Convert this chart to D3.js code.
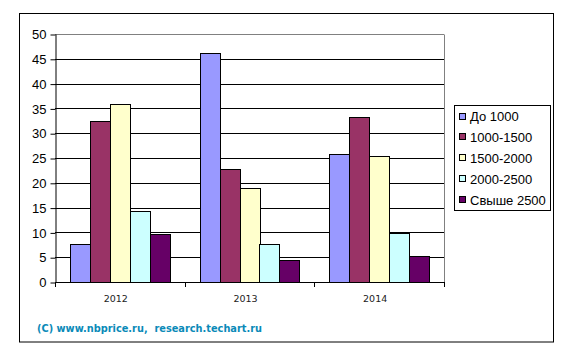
<!DOCTYPE html>
<html><head><meta charset="utf-8">
<script src="https://cdn.jsdelivr.net/npm/d3@7"></script>
<style>body{margin:0;background:#fff}svg{display:block}</style>
</head><body>
<script>
const categories = ["2012", "2013", "2014"];
const seriesNames = ["До 1000", "1000-1500", "1500-2000", "2000-2500", "Свыше 2500"];
const s1 = [7.6, 46.1, 25.9];
const s2 = [32.4, 22.7, 33.2];
const s3 = [35.8, 18.9, 25.5];
const s4 = [14.3, 7.6, 9.9];
const s5 = [9.6, 4.4, 5.2];
const yTicks = [0, 5, 10, 15, 20, 25, 30, 35, 40, 45, 50];
const colors = ["#9999FF", "#993366", "#FFFFCC", "#CCFFFF", "#660066"];
const seriesValues = [s1, s2, s3, s4, s5];

const W = 575, H = 357;
const svg = d3.select("body").append("svg").attr("width", W).attr("height", H);

// outer frame
svg.append("rect").attr("x", 19.5).attr("y", 13.5).attr("width", 534).attr("height", 328.5)
  .attr("fill", "#fff").attr("stroke", "#000").attr("stroke-width", 1);

const L = 55, R = 444, T = 34, B = 282;
const x = d3.scaleBand().domain(categories).range([L, R]).padding(0);
const xs = d3.scaleBand().domain(seriesNames).range([0, x.bandwidth()]).paddingInner(0).paddingOuter(0.75);
const y = d3.scaleLinear().domain([0, 50]).range([B, T]);

// gridlines
const g = svg.append("g");
g.selectAll("line.grid").data(yTicks.filter(t => t > 0)).join("line")
  .attr("x1", L).attr("x2", R)
  .attr("y1", d => Math.round(y(d)) + 0.5).attr("y2", d => Math.round(y(d)) + 0.5)
  .attr("stroke", d => d === 50 ? "#808080" : "#000").attr("stroke-width", 1);
// right border of plot
g.append("line").attr("x1", R + 0.5).attr("x2", R + 0.5).attr("y1", Math.round(y(50)) + 0.5).attr("y2", B)
  .attr("stroke", "#808080");

// bars
seriesNames.forEach((s, si) => {
  svg.append("g").selectAll("rect").data(categories).join("rect")
    .attr("x", c => Math.round(x(c) + xs(s)) + 0.5)
    .attr("width", Math.round(xs.bandwidth()))
    .attr("y", (c, i) => Math.round(y(seriesValues[si][i])) + 0.5)
    .attr("height", (c, i) => Math.round(B - y(seriesValues[si][i])))
    .attr("fill", colors[si]).attr("stroke", "#000").attr("stroke-width", 1);
});

// y axis
const ya = svg.append("g").attr("transform", `translate(${L + 0.5},0)`)
  .call(d3.axisLeft(y).tickValues(yTicks).tickSize(5).tickPadding(4).tickSizeOuter(0));
ya.select(".domain").attr("stroke", "#000");
ya.selectAll(".tick line").attr("stroke", "#000").attr("transform", "translate(0,0.5)");
ya.selectAll(".tick text").attr("font-family", "Liberation Sans, Arial, sans-serif")
  .attr("font-size", 13).attr("fill", "#000").attr("dy", "0.36em");

// x axis
svg.append("line").attr("x1", L).attr("x2", R + 1).attr("y1", B + 0.5).attr("y2", B + 0.5).attr("stroke", "#000");
const bounds = categories.map(c => x(c)).concat([x(categories[categories.length - 1]) + x.bandwidth()]);
svg.append("g").selectAll("line").data(bounds).join("line")
  .attr("x1", d => Math.round(d) + 0.5).attr("x2", d => Math.round(d) + 0.5)
  .attr("y1", B).attr("y2", B + 5).attr("stroke", "#000");
svg.append("g").selectAll("text").data(categories).join("text")
  .attr("x", c => x(c) + x.bandwidth() / 2 - 4).attr("y", 301.5)
  .attr("text-anchor", "middle").attr("font-family", "DejaVu Sans, Verdana, sans-serif")
  .attr("font-size", 9.5).attr("fill", "#222").text(d => d);

// legend
const lg = svg.append("g");
lg.append("rect").attr("x", 454.5).attr("y", 105.5).attr("width", 96).attr("height", 105)
  .attr("fill", "#fff").attr("stroke", "#000");
const ly = d3.scalePoint().domain(seriesNames).range([116.5, 200]);
seriesNames.forEach((s, i) => {
  lg.append("rect").attr("x", 459.5).attr("y", Math.round(ly(s)) - 3.5).attr("width", 6).attr("height", 6)
    .attr("fill", colors[i]).attr("stroke", "#000");
  lg.append("text").attr("x", 470).attr("y", ly(s)).attr("dy", "0.36em")
    .attr("font-family", "Liberation Sans, Arial, sans-serif").attr("font-size", 13).attr("fill", "#000").text(s);
});

// copyright
svg.append("text").attr("x", 37).attr("y", 332)
  .attr("font-family", "DejaVu Sans, Verdana, sans-serif").attr("font-weight", "bold")
  .attr("font-size", 10.5).attr("fill", "#0a8ab8")
  .attr("textLength", 225).attr("lengthAdjust", "spacingAndGlyphs")
  .attr("xml:space", "preserve").style("white-space", "pre")
  .text("(C) www.nbprice.ru,  research.techart.ru");
</script>
</body></html>
